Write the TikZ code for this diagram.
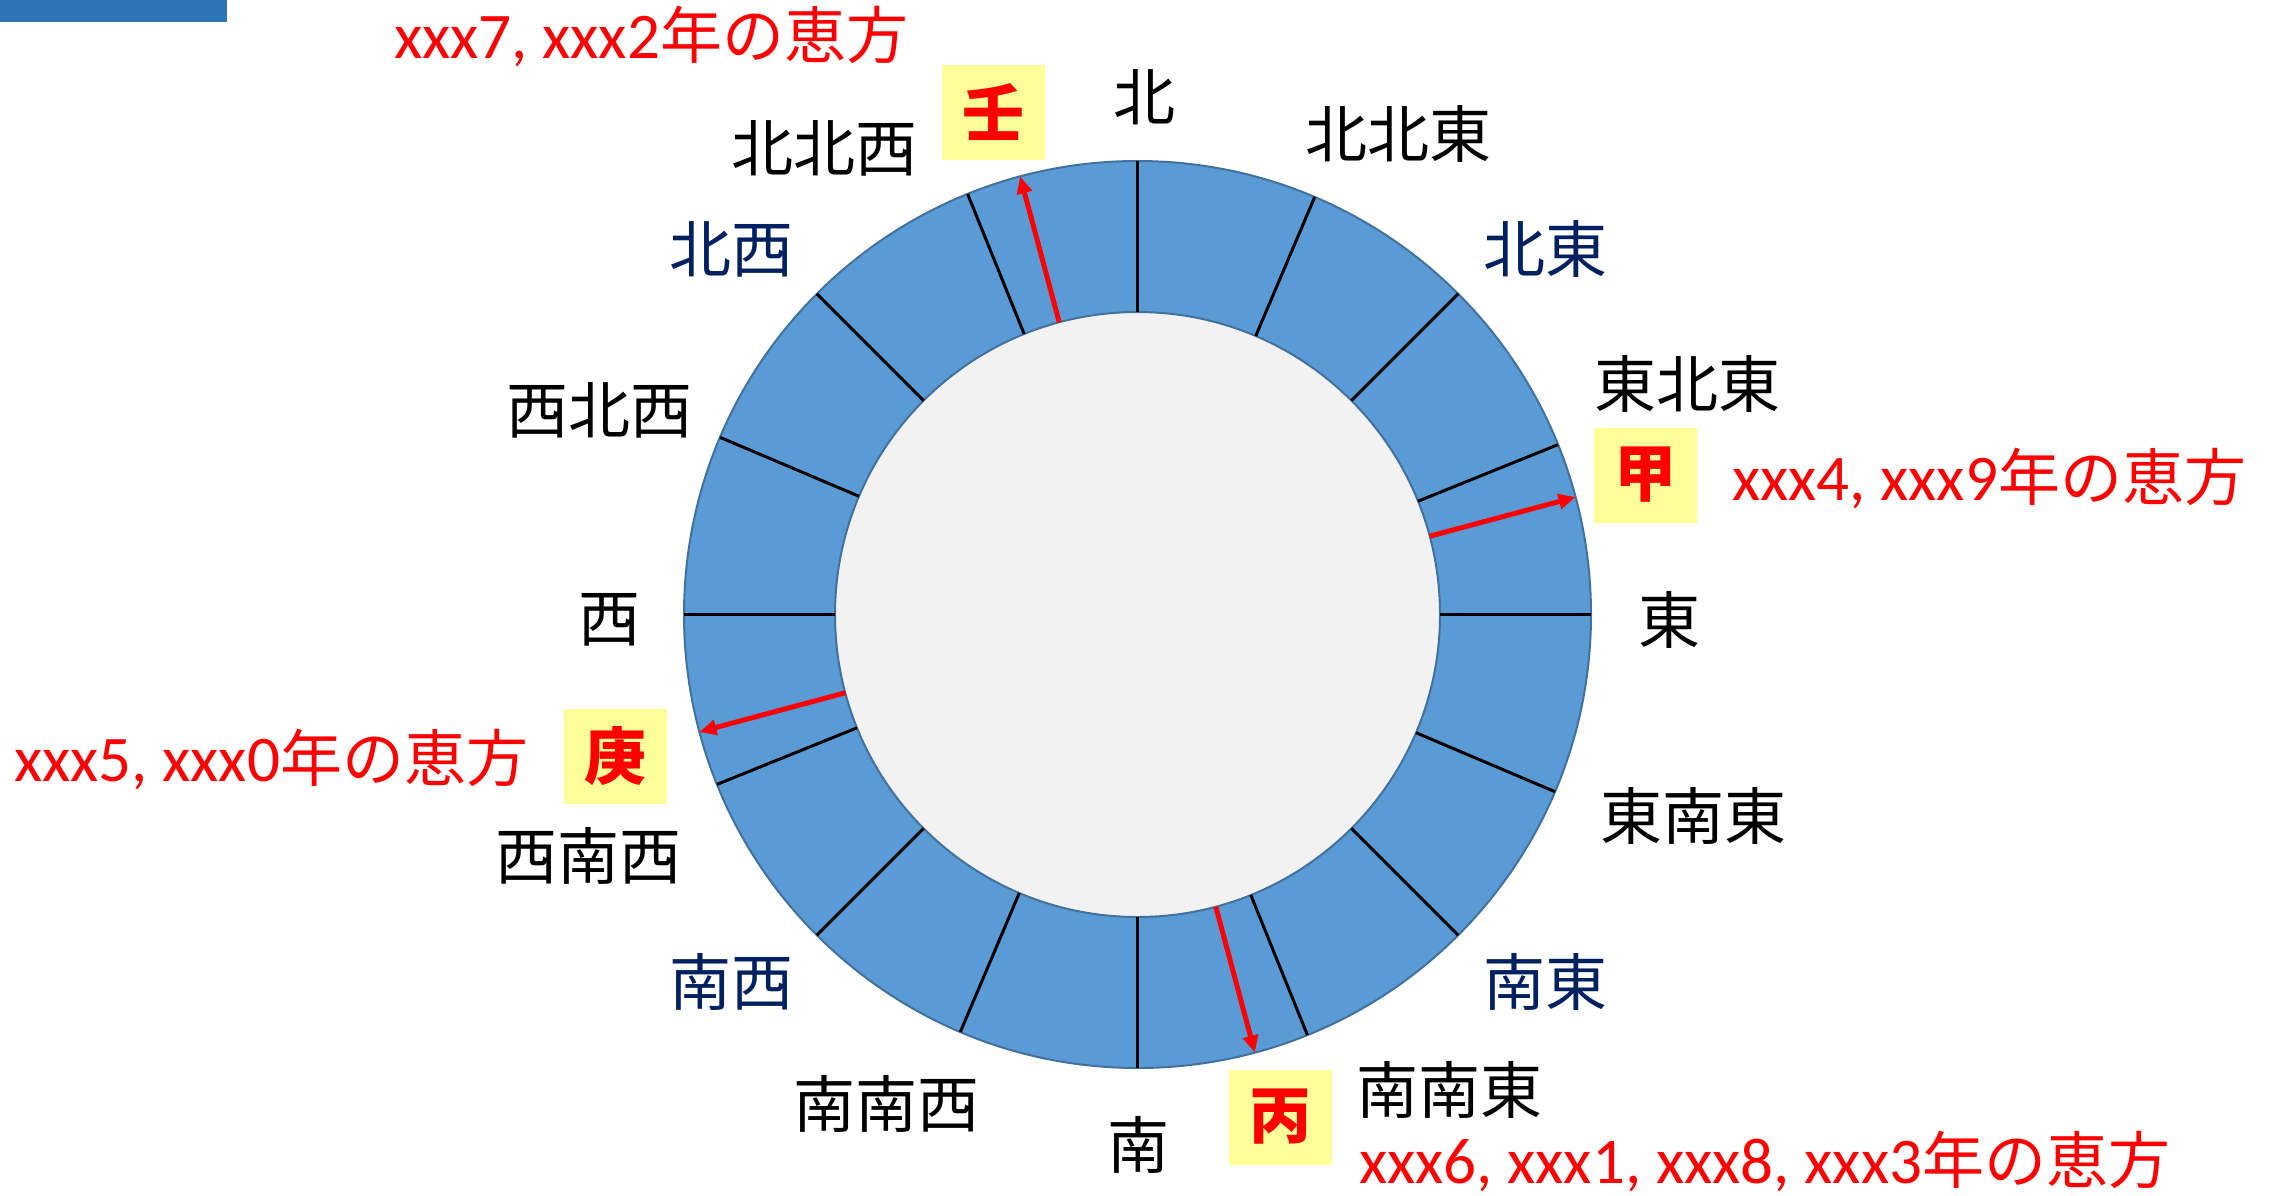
\documentclass[tikz,border=0pt]{standalone}
\usepackage{fontspec}
\setmainfont{Noto Sans CJK JP}
\newfontfamily\latf[Scale=1.05]{Carlito}
\usetikzlibrary{arrows.meta}
\definecolor{ringfill}{HTML}{5B9BD5}
\definecolor{ringline}{HTML}{41719C}
\definecolor{innerfill}{HTML}{F2F2F2}
\definecolor{navyblue}{HTML}{002060}
\definecolor{barblue}{HTML}{2E75B6}
\definecolor{boxyellow}{HTML}{FFFF99}
\newcommand\ehoutext[1]{{\latf #1}年の恵方}
\begin{document}
\begin{tikzpicture}[x=1pt,y=-1pt,
  lbl/.style={font=\fontsize{62}{70}\selectfont, inner sep=0pt, outer sep=0pt, text=black},
  navylbl/.style={lbl, text=navyblue},
  redtxt/.style={lbl, text=red, anchor=west},
  kanbox/.style={fill=boxyellow, text=red, font=\fontsize{62}{70}\selectfont\bfseries,
    minimum width=103pt, minimum height=95pt, inner sep=0pt, outer sep=0pt},
  divider/.style={draw=black, line width=3pt},
  redarrow/.style={draw=red, line width=5pt, -{Triangle[length=17pt,width=15pt]}},
  ringstyle/.style={circle, draw=ringline, line width=2pt, inner sep=0pt, outer sep=0pt}]
\useasboundingbox (0,0) rectangle (2272,1195);
\node[fill=barblue, minimum width=227pt, minimum height=22pt, inner sep=0pt, outer sep=0pt, anchor=north west] (bar) at (0,0) {};
% ring
\node[ringstyle, fill=ringfill, minimum size=907pt] (outer) at (1137.5,614.5) {};
\node[ringstyle, fill=innerfill, minimum size=605pt] (inner) at (1137.5,614.5) {};
\foreach \a in {0,22.5,...,337.5} \draw[divider] (inner.\a) -- (outer.\a);
% red arrows
\draw[redarrow] (inner.105) -- (outer.105);
\draw[redarrow] (inner.15) -- (outer.15);
\draw[redarrow] (inner.-75) -- (outer.-75);
\draw[redarrow] (inner.-165) -- (outer.-165);
% direction labels
\node[lbl] (n) at (1144,97) {北};
\node[lbl] (nne) at (1398,134) {北北東};
\node[navylbl] (ne) at (1545,249) {北東};
\node[lbl] (ene) at (1687,384) {東北東};
\node[lbl] (e) at (1669,620) {東};
\node[lbl] (ese) at (1693,816) {東南東};
\node[navylbl] (se) at (1545,982) {南東};
\node[lbl] (sse) at (1449,1090) {南南東};
\node[lbl] (s) at (1138,1145) {南};
\node[lbl] (ssw) at (886,1104) {南南西};
\node[navylbl] (sw) at (731,982) {南西};
\node[lbl] (wsw) at (588,856) {西南西};
\node[lbl] (w) at (609,620) {西};
\node[lbl] (wnw) at (599,410) {西北西};
\node[navylbl] (nw) at (731,249) {北西};
\node[lbl] (nnw) at (824,148) {北北西};
% kan boxes
\node[kanbox] (jin) at (993,112) {壬};
\node[kanbox] (kou) at (1645,475) {甲};
\node[kanbox] (kanoe) at (615,756) {庚};
\node[kanbox] (hei) at (1280,1117) {丙};
% red texts
\node[redtxt] (t1) at (394,36) {\ehoutext{xxx7, xxx2}};
\node[redtxt] (t2) at (1732,478) {\ehoutext{xxx4, xxx9}};
\node[redtxt] (t3) at (14,759) {\ehoutext{xxx5, xxx0}};
\node[redtxt] (t4) at (1359,1161) {\ehoutext{xxx6, xxx1, xxx8, xxx3}};
\end{tikzpicture}
\end{document}
